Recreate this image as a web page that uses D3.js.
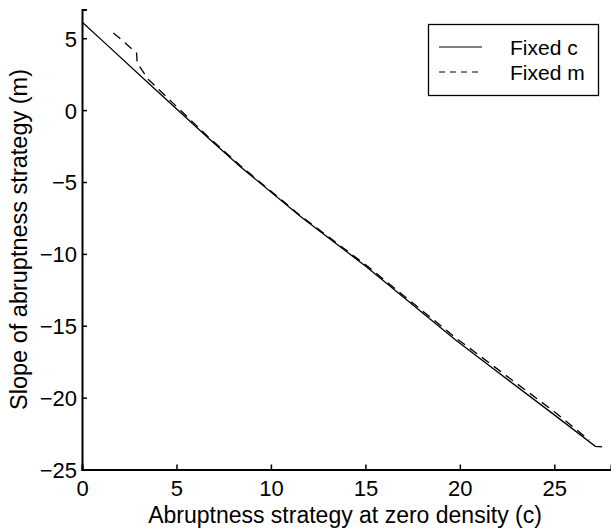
<!DOCTYPE html>
<html>
<head>
<meta charset="utf-8">
<script src="https://cdn.jsdelivr.net/npm/d3@7"></script>
<style>
    body { margin: 0; background: #fff; }
    svg { display: block; font-family: "Liberation Sans", Arial, sans-serif; }
</style>
</head>
<body>
<svg id="chart" width="611" height="528"></svg>
<script>
// Data
const fixedC_c = [0, 1.22, 3.51, 6.67, 8.37, 11.55, 15.1, 19.76, 21.6, 25, 27.17, 27.53];
const fixedC_m = [6.13, 4.66, 1.88, -1.92, -3.92, -7.39, -10.94, -15.97, -17.82, -21.2, -23.39, -23.42];

const fixedM_c = [1.66, 2.1, 2.89, 2.92, 3.16, 3.5, 6.67, 8.37, 11.55, 15.1, 19.76, 21.6, 25, 26.85];
const fixedM_m = [5.36, 4.89, 3.97, 3.28, 2.81, 2.15, -1.85, -3.85, -7.33, -10.85, -15.82, -17.63, -20.98, -22.95];

const xTicks = [0, 5, 10, 15, 20, 25];
const yTicks = [5, 0, -5, -10, -15, -20, -25];
const legendLabels = ['Fixed c', 'Fixed m'];

const svg = d3.select('#chart');
const plotLeft = 82, plotRight = 611, plotTop = 9.5, plotBottom = 469.5;

const x = d3.scaleLinear().domain([0, 28]).range([plotLeft, plotRight]);
const y = d3.scaleLinear().domain([-25, 7]).range([plotBottom, plotTop]);

const fmt = d => d < 0 ? '\u2212' + Math.abs(d) : String(d);

// Axes, ticks pointing inward
const xAxis = svg.append('g')
    .attr('transform', `translate(0,${plotBottom})`)
    .call(d3.axisBottom(x).tickValues(xTicks).tickSize(-5).tickPadding(11).tickFormat(fmt));
const yAxis = svg.append('g')
    .attr('transform', `translate(${plotLeft},0)`)
    .call(d3.axisLeft(y).tickValues(yTicks).tickSize(-5).tickPadding(5).tickFormat(fmt));

[xAxis, yAxis].forEach(a => {
    a.select('.domain').attr('stroke', '#000').attr('stroke-width', 2);
    a.selectAll('.tick line').attr('stroke', '#000').attr('stroke-width', 1.5);
    a.selectAll('.tick text').attr('fill', '#000')
        .style('font-family', '"Liberation Sans", Arial, sans-serif')
        .style('font-size', '22px');
});
xAxis.selectAll('.tick text').attr('dy', '0.71em');
yAxis.selectAll('.tick text').attr('dy', '0.36em');

// Axis titles
svg.append('text')
    .attr('x', 345)
    .attr('y', 523)
    .attr('text-anchor', 'middle')
    .style('font-size', '23px')
    .text('Abruptness strategy at zero density (c)');

svg.append('text')
    .attr('transform', `translate(27,${(plotTop + plotBottom) / 2}) rotate(-90)`)
    .attr('text-anchor', 'middle')
    .style('font-size', '23.5px')
    .text('Slope of abruptness strategy (m)');

// Lines
const line = d3.line().x(d => x(d[0])).y(d => y(d[1]));

svg.append('path')
    .datum(d3.zip(fixedC_c, fixedC_m))
    .attr('fill', 'none')
    .attr('stroke', '#000')
    .attr('stroke-width', 1.3)
    .attr('d', line);

svg.append('path')
    .datum(d3.zip(fixedM_c, fixedM_m))
    .attr('fill', 'none')
    .attr('stroke', '#000')
    .attr('stroke-width', 1.3)
    .attr('stroke-dasharray', '9,6')
    .attr('d', line);

// Legend
const lg = svg.append('g');
lg.append('rect')
    .attr('x', 428.5).attr('y', 24.5)
    .attr('width', 170).attr('height', 71)
    .attr('fill', '#fff').attr('stroke', '#000').attr('stroke-width', 1.3);

legendLabels.forEach((lab, i) => {
    const ly = 47 + i * 25;
    lg.append('line')
        .attr('x1', 439).attr('x2', 482)
        .attr('y1', ly).attr('y2', ly)
        .attr('stroke', '#000').attr('stroke-width', 1)
        .attr('stroke-dasharray', i === 1 ? '6,5' : null);
    lg.append('text')
        .attr('x', 510).attr('y', ly)
        .attr('dy', '0.36em')
        .style('font-size', '21px')
        .text(lab);
});
</script>
</body>
</html>
